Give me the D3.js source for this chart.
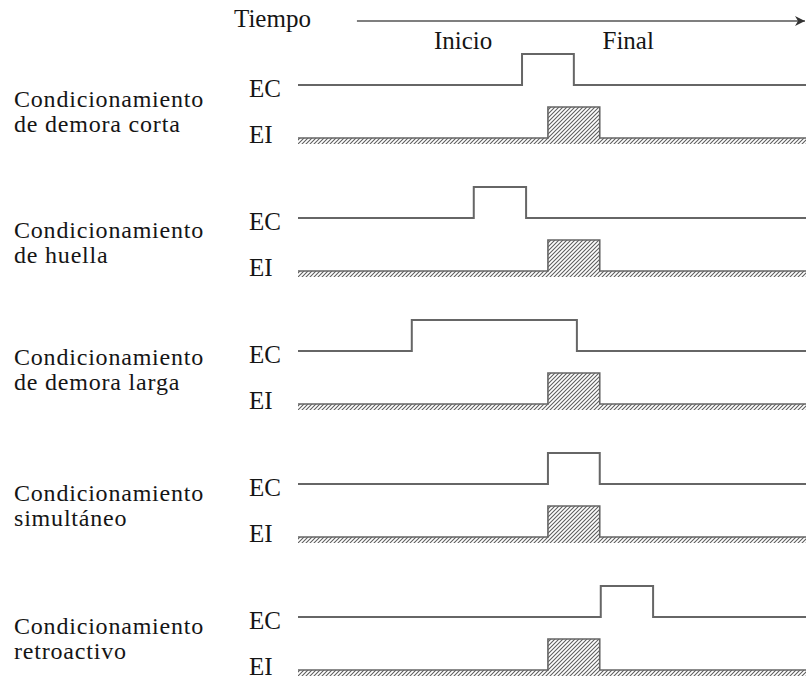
<!DOCTYPE html>
<html>
<head>
<meta charset="utf-8">
<script src="https://cdn.jsdelivr.net/npm/d3@7"></script>
<style>
  body { margin: 0; background: #fff; }
  svg { display: block; }
  text { font-family: "Liberation Serif", "Times New Roman", serif; fill: #151515; }
</style>
</head>
<body>
<div id="chart"></div>
<script>
// row labels (two lines each)
const rowLabels = [
  ["Condicionamiento", "de demora corta"],
  ["Condicionamiento", "de huella"],
  ["Condicionamiento", "de demora larga"],
  ["Condicionamiento", "simultáneo"],
  ["Condicionamiento", "retroactivo"],
];
const signalNames = ["EC", "EI"];
// EC on / off in time units (0..100)
const ecOnset = [44.1, 34.6, 22.4, 49.2, 59.6];
const ecOffset = [54.3, 44.9, 54.9, 59.4, 69.9];
// EI is the same in every row
const eiOnset = 49.2;
const eiOffset = 59.4;
const timeTitle = "Tiempo";
const timeMarks = ["Inicio", "Final"];
const timeMarkPos = [32.5, 65];
const arrowStart = 11.6;

const width = 806;
const height = 681;

const x = d3.scaleLinear().domain([0, 100]).range([298, 806]);
const y = d3.scalePoint().domain(d3.range(rowLabels.length)).range([85, 617]);
const pulse = d3.scaleLinear().domain([0, 1]).range([0, -31]);
const eiGap = 53;
// the printed figure does not place the row titles quite evenly
const labelShift = [0, -2, -8, -5, -5];

const svg = d3
  .select("#chart")
  .append("svg")
  .attr("width", width)
  .attr("height", height);

const defs = svg.append("defs");
defs
  .append("pattern")
  .attr("id", "hatch")
  .attr("patternUnits", "userSpaceOnUse")
  .attr("width", 4)
  .attr("height", 4)
  .append("path")
  .attr("d", "M-1,1 l2,-2 M0,4 l4,-4 M3,5 l2,-2")
  .attr("stroke", "#5e5e5e")
  .attr("stroke-width", 1.1);

defs
  .append("marker")
  .attr("id", "arrow")
  .attr("viewBox", "0 0 10 10")
  .attr("refX", 10)
  .attr("refY", 5)
  .attr("markerWidth", 16)
  .attr("markerHeight", 10)
  .attr("markerUnits", "userSpaceOnUse")
  .attr("orient", "auto")
  .append("path")
  .attr("d", "M0,0 L10,5 L0,10 L3,5 Z")
  .attr("fill", "#333");

// time axis
svg
  .append("text")
  .attr("x", 234)
  .attr("y", 27)
  .attr("font-size", 25)
  .text(timeTitle);

svg
  .append("line")
  .attr("x1", x(arrowStart))
  .attr("x2", x(100) - 1)
  .attr("y1", 21)
  .attr("y2", 21)
  .attr("stroke", "#555")
  .attr("stroke-width", 1.6)
  .attr("marker-end", "url(#arrow)");

svg
  .selectAll(".time-mark")
  .data(timeMarks)
  .join("text")
  .attr("class", "time-mark")
  .attr("x", (d, i) => x(timeMarkPos[i]))
  .attr("y", 49)
  .attr("text-anchor", "middle")
  .attr("font-size", 25)
  .text((d) => d);

const line = d3
  .line()
  .x((d) => x(d[0]))
  .y((d) => pulse(d[1]));

const pulsePoints = (on, off) => [
  [0, 0],
  [on, 0],
  [on, 1],
  [off, 1],
  [off, 0],
  [100, 0],
];

const row = svg
  .selectAll(".row")
  .data(rowLabels)
  .join("g")
  .attr("class", "row")
  .attr("transform", (d, i) => `translate(0,${y(i)})`);

// left labels, one text per line
row.each(function (d, i) {
  d3.select(this)
    .selectAll(".row-label")
    .data(d)
    .join("text")
    .attr("class", "row-label")
    .attr("font-size", 24)
    .attr("letter-spacing", 0.8)
    .attr("x", 14)
    .attr("y", (t, j) => 22 + labelShift[i] + j * 25)
    .text((t) => t);
});

// signal names
row
  .append("text")
  .attr("x", 249)
  .attr("y", 12)
  .attr("font-size", 25)
  .text(signalNames[0]);

row
  .append("text")
  .attr("x", 249)
  .attr("y", eiGap + 5)
  .attr("font-size", 25)
  .text(signalNames[1]);

// EC trace
row
  .append("path")
  .attr("fill", "none")
  .attr("stroke", "#666")
  .attr("stroke-width", 2)
  .attr("d", (d, i) => line(pulsePoints(ecOnset[i], ecOffset[i])));

// EI trace: hatched strip + hatched pulse
const ei = row.append("g").attr("transform", `translate(0,${eiGap})`);

ei.append("rect")
  .attr("x", x(0))
  .attr("y", 0)
  .attr("width", x(100) - x(0))
  .attr("height", 6)
  .attr("fill", "url(#hatch)");

ei.append("rect")
  .attr("x", x(eiOnset))
  .attr("y", pulse(1))
  .attr("width", x(eiOffset) - x(eiOnset))
  .attr("height", pulse(0) - pulse(1))
  .attr("fill", "url(#hatch)");

ei.append("path")
  .attr("fill", "none")
  .attr("stroke", "#666")
  .attr("stroke-width", 1.6)
  .attr("d", line(pulsePoints(eiOnset, eiOffset)));
</script>
</body>
</html>
